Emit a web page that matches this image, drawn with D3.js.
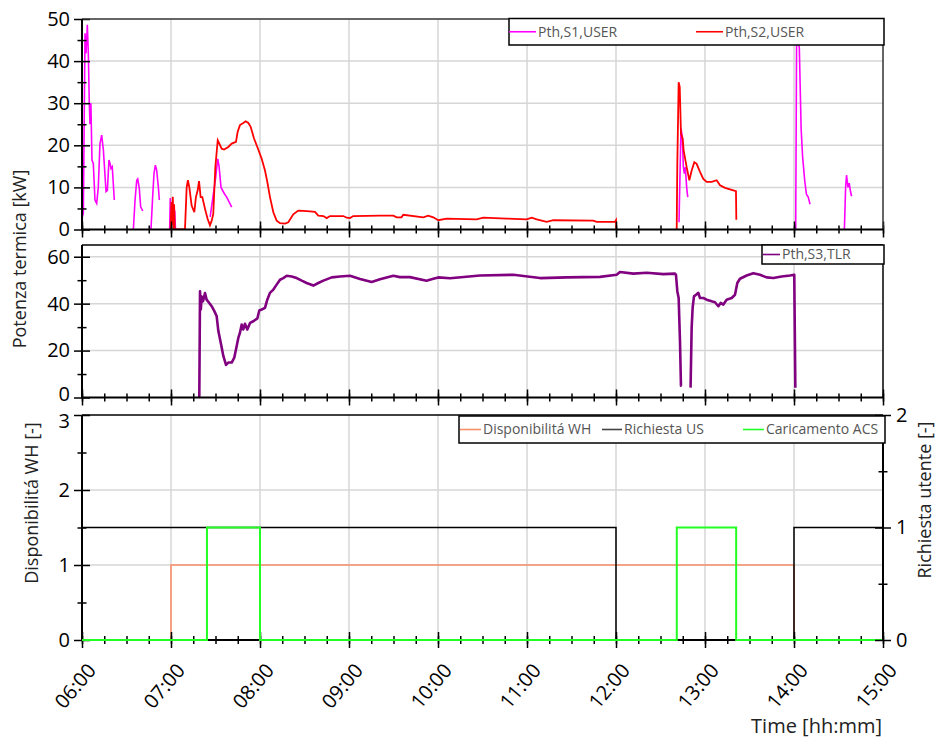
<!DOCTYPE html>
<html><head><meta charset="utf-8">
<script src="https://cdn.jsdelivr.net/npm/d3@7"></script>
<style>body{margin:0;background:#fff;} text{font-family:"Open Sans",sans-serif;}</style>
</head><body><svg id="c" width="935" height="740"></svg>
<script>
// ---------------- DATA ----------------
const hourTicks = [6,7,8,9,10,11,12,13,14,15];
const hourLabels = ["06:00","07:00","08:00","09:00","10:00","11:00","12:00","13:00","14:00","15:00"];
const topTicks = [0,10,20,30,40,50];
const midTicks = [0,20,40,60];
const botLeftTicks = [0,1,2,3];
const botRightTicks = [0,1,2];

// Pth,S1,USER [hour, kW]  (null = gap)
const s1User = [
 [6.000,0],[6.004,3],[6.015,3.8],[6.034,46.6],[6.045,41.8],[6.06,48.6],[6.071,42],[6.082,30],[6.09,25],[6.10,30],[6.112,16.5],[6.127,15.7],[6.146,7],[6.165,6.2],[6.183,10],[6.202,20.4],[6.221,22.4],[6.24,18.9],[6.27,9],[6.285,9.3],[6.303,16.5],[6.315,15.7],[6.326,14.5],[6.34,14.9],[6.363,7],
 null,
 [6.577,0],[6.596,7],[6.615,11.7],[6.626,12],[6.644,9.7],[6.659,5.4],[6.682,4.4],
 null,
 [6.775,0],[6.794,7.8],[6.809,13.3],[6.824,15.3],[6.839,14.1],[6.858,10.1],[6.869,7],
 null,
 [6.985,0],[6.992,7.5],[6.998,0],[7.035,0],[7.042,4.5],[7.05,0],
 null,
 [7.44,3],[7.5,12],[7.525,16.8],[7.54,15],[7.562,10],[7.6,8.5],[7.626,7.7],[7.682,5.3],
 null,
 [12.708,1.7],[12.73,24],[12.745,22],[12.757,14.8],[12.768,13.3],[12.779,14.8],[12.794,10],[12.806,7.7],
 null,
 [14.019,0],[14.03,49],[14.06,43],[14.08,24],[14.097,17.2],[14.12,11.7],[14.14,8.3],[14.16,7.7],[14.18,6],
 null,
 [14.566,0],[14.58,10],[14.59,12.9],[14.607,10],[14.62,11],[14.636,8.9],[14.647,7.9]
];

// Pth,S2,USER
const s2User = [
 [6.995,0],[7.005,6.5],[7.012,1],[7.02,7.8],[7.028,0],[7.035,6],[7.042,0],
 [7.157,0],[7.176,10],[7.19,11.7],[7.206,10],[7.232,5.7],[7.262,4.1],[7.28,7.7],[7.3,9.3],[7.315,11.5],[7.333,7.7],[7.352,7.7],[7.382,4.9],[7.412,2.5],[7.438,1],[7.457,2.1],[7.475,3.7],[7.498,14.8],[7.525,21.2],[7.543,20.4],[7.569,19.2],[7.596,19],[7.644,19.6],[7.682,20.4],[7.73,20.8],[7.749,23.2],[7.775,24.8],[7.812,25.3],[7.839,25.7],[7.869,25.3],[7.895,24.4],[7.933,21.6],[7.97,19.6],[8.019,16.8],[8.056,14],[8.082,11.3],[8.112,7.7],[8.15,4.1],[8.187,2.1],[8.225,1.5],[8.281,1.4],[8.318,1.7],[8.374,3.6],[8.43,4.5],[8.487,4.4],[8.562,4.3],[8.618,4.2],[8.655,3.3],[8.712,3.2],[8.749,2.7],[8.787,3.2],[8.936,3.2],[8.974,2.8],[9.011,2.7],[9.048,3.2],[9.348,3.3],[9.498,3.3],[9.536,2.9],[9.59,2.9],[9.61,3.5],[9.835,2.9],[9.89,3.3],[9.947,2.9],[10.003,2.2],[10.097,2.6],[10.434,2.4],[10.509,2.8],[10.771,2.6],[10.996,2.4],[11.053,2.8],[11.109,2.4],[11.221,1.8],[11.296,2.2],[11.745,2.1],[11.783,1.8],[11.989,1.8],[12.0,2.2],[12.003,0],
 null,
 [12.682,0],[12.689,15.6],[12.704,35],[12.716,33.9],[12.73,22.8],[12.749,21.6],[12.76,18.8],[12.794,14.8],[12.824,11.7],[12.85,14],[12.88,16],[12.906,15.6],[12.944,13.7],[12.981,12],[13.019,11.3],[13.075,11.3],[13.131,11.7],[13.169,10.5],[13.225,9.9],[13.3,9.4],[13.348,9.1],[13.352,2.3]
];

// Pth,S3,TLR
const s3Tlr = [
 [7.318,0],[7.326,45.3],[7.335,37.5],[7.345,43],[7.36,41],[7.382,44.5],[7.4,41.7],[7.43,40.3],[7.457,38.9],[7.487,36.8],[7.513,34.7],[7.532,28.3],[7.551,24.8],[7.57,21.2],[7.588,17.7],[7.618,13.9],[7.644,14.9],[7.682,14.9],[7.711,17],[7.73,20.5],[7.757,25.5],[7.775,27.6],[7.794,31.1],[7.812,29],[7.831,31.4],[7.857,29],[7.888,31.8],[7.925,32.5],[7.97,33.7],[7.992,37.1],[8.019,37.5],[8.056,38.2],[8.082,41.7],[8.112,44.6],[8.15,46],[8.187,48.1],[8.225,50.2],[8.262,50.9],[8.3,51.9],[8.356,51.6],[8.412,50.9],[8.469,49.8],[8.524,48.8],[8.6,47.7],[8.655,48.8],[8.712,49.8],[8.806,51.2],[8.899,51.6],[9.011,51.9],[9.124,50.5],[9.255,49.2],[9.348,50.4],[9.498,51.9],[9.573,51.3],[9.685,51.3],[9.872,49.8],[9.947,50.6],[10.003,51.2],[10.135,50.8],[10.472,52],[10.846,52.3],[11.146,50.9],[11.446,51.2],[11.82,51.4],[12.007,52.3],[12.045,53.5],[12.194,52.8],[12.345,53.2],[12.532,52.6],[12.663,52.8],[12.674,52.3],[12.689,45.3],[12.704,42.4],[12.719,24],[12.73,5],[12.737,5],
 null,
 [12.838,4.2],[12.85,29.7],[12.861,38.2],[12.876,43.1],[12.9,43.8],[12.925,44.6],[12.944,42.4],[12.981,42.4],[13.019,41.7],[13.075,41],[13.112,40.6],[13.15,38.9],[13.176,40.3],[13.206,39.6],[13.243,41.7],[13.3,42.4],[13.337,43.8],[13.363,48.8],[13.393,50.6],[13.468,52],[13.543,53],[13.618,52.3],[13.693,51.2],[13.768,50.9],[13.861,51.6],[13.955,52],[14.003,52.3],[14.015,4.2]
];

// step signals
const disponibilitaWH = [[6,0],[7,1],[14,0],[15,0]];
const richiestaUS = [[6,1],[12,0],[14,1],[15,1]];
const caricamentoACS = [[6,0],[7.404,1],[8.0,0],[12.683,1],[13.35,0],[15,0]];

// ---------------- CHART ----------------
const svg = d3.select("#c");
const X0 = 82, X1 = 883;
const x = d3.scaleLinear().domain([6,15]).range([X0,X1]);
const minorX = d3.range(6, 15.001, 0.25);

const panels = {
  top: {y: d3.scaleLinear().domain([0,50]).range([229.5,19]), top:19, bot:229.5},
  mid: {y: d3.scaleLinear().domain([0,65]).range([397.5,245]), top:245, bot:397.5},
  bot: {y: d3.scaleLinear().domain([0,3]).range([640,415]), top:415, bot:640}
};
const yR = d3.scaleLinear().domain([0,2]).range([640,415]);

const gridColor = "#d6d6d6";
function styleAxis(g){ g.select(".domain").remove(); g.selectAll(".tick line").attr("stroke","#000").attr("stroke-width",1.5); g.selectAll(".tick text").attr("fill","#000").style("font-size","20px"); }

function drawPanel(p, majors, key){
  const y = p.y;
  const g = svg.append("g");
  svg.append("clipPath").attr("id","clip-"+key).append("rect")
    .attr("x",X0).attr("y",p.top).attr("width",X1-X0).attr("height",p.bot-p.top);
  g.selectAll(".vg").data(hourTicks.slice(1,-1)).join("line")
    .attr("x1",d=>x(d)).attr("x2",d=>x(d)).attr("y1",p.top).attr("y2",p.bot)
    .attr("stroke",gridColor).attr("stroke-width",1.5);
  g.selectAll(".hg").data(majors.filter(v=>v>y.domain()[0] && v<y.domain()[1])).join("line")
    .attr("x1",X0).attr("x2",X1).attr("y1",d=>y(d)).attr("y2",d=>y(d))
    .attr("stroke",gridColor).attr("stroke-width",1.5);
  return g;
}

function drawFrame(p, majors, minors, topColor, labelDy){
  const y = p.y;
  const g = svg.append("g");
  [[minorX,4],[minorX,-4],[hourTicks,8],[hourTicks,-8]].forEach(([vals,s])=>{
    g.append("g").attr("transform",`translate(0,${p.bot})`)
     .call(d3.axisBottom(x).tickValues(vals).tickSize(s).tickFormat("")).call(styleAxis);
  });
  [[minors,4.5],[minors,-4.5],[majors,8],[majors,-8]].forEach(([vals,s])=>{
    g.append("g").attr("transform",`translate(${X0},0)`)
     .call(d3.axisLeft(y).tickValues(vals).tickSize(s).tickFormat("")).call(styleAxis);
  });
  const lab = g.append("g").attr("transform",`translate(${X0-12},0)`)
   .call(d3.axisLeft(y).tickValues(majors).tickSize(0).tickPadding(0).tickFormat(d3.format("d"))).call(styleAxis);
  if (labelDy) lab.selectAll(".tick text").attr("dy", d => labelDy[d] || "0.32em");
  g.append("line").attr("x1",X0).attr("x2",X1).attr("y1",p.top).attr("y2",p.top).attr("stroke",topColor).attr("stroke-width",1.5);
  g.append("line").attr("x1",X1).attr("x2",X1).attr("y1",p.top).attr("y2",p.bot).attr("stroke",topColor).attr("stroke-width",1.5);
  g.append("line").attr("x1",X0).attr("x2",X0).attr("y1",p.top).attr("y2",p.bot).attr("stroke","#000").attr("stroke-width",2);
  g.append("line").attr("x1",X0-1).attr("x2",X1+1).attr("y1",p.bot).attr("y2",p.bot).attr("stroke","#000").attr("stroke-width",2);
  return g;
}

function lineFor(y){ return d3.line().defined(d=>d!==null).x(d=>x(d[0])).y(d=>y(d[1])); }
function stepFor(y){ return d3.line().curve(d3.curveStepAfter).x(d=>x(d[0])).y(d=>y(d[1])); }

// ---- top panel
drawPanel(panels.top, topTicks, "top");
const lt = lineFor(panels.top.y);
svg.append("path").attr("d",lt(s1User)).attr("fill","none").attr("stroke","#ff00ff").attr("stroke-width",1.6).attr("clip-path","url(#clip-top)");
svg.append("path").attr("d",lt(s2User)).attr("fill","none").attr("stroke","#ff0000").attr("stroke-width",1.8).attr("clip-path","url(#clip-top)");
drawFrame(panels.top, topTicks, [5,15,25,35,45], "#333", null);

// ---- middle panel
drawPanel(panels.mid, midTicks, "mid");
svg.append("path").attr("d",lineFor(panels.mid.y)(s3Tlr)).attr("fill","none").attr("stroke","#800080").attr("stroke-width",2.6).attr("stroke-linejoin","round").attr("clip-path","url(#clip-mid)");
drawFrame(panels.mid, midTicks, [10,30,50], "#000", {0:"0.15em"});

// ---- bottom panel
drawPanel(panels.bot, botLeftTicks, "bot");
svg.append("path").attr("d",stepFor(panels.bot.y)(disponibilitaWH)).attr("fill","none").attr("stroke","#f9906a").attr("stroke-width",1.6);
svg.append("path").attr("d",stepFor(yR)(richiestaUS)).attr("fill","none").attr("stroke","#000").attr("stroke-width",1.5);
drawFrame(panels.bot, botLeftTicks, [0.5,1.5,2.5], "#000", {3:"0.6em"});
svg.append("path").attr("d",stepFor(yR)(caricamentoACS)).attr("fill","none").attr("stroke","#22ff22").attr("stroke-width",2);
// right axis
[[[0.5,1.5],4.5],[[0.5,1.5],-4.5],[botRightTicks,8],[botRightTicks,-8]].forEach(([vals,s])=>{
  svg.append("g").attr("transform",`translate(${X1},0)`)
   .call(d3.axisRight(yR).tickValues(vals).tickSize(s).tickFormat("")).call(styleAxis);
});
svg.append("g").attr("transform",`translate(${X1+13},0)`)
  .call(d3.axisRight(yR).tickValues(botRightTicks).tickSize(0).tickPadding(0).tickFormat(d3.format("d"))).call(styleAxis);
svg.append("line").attr("x1",X1).attr("x2",X1).attr("y1",415).attr("y2",640).attr("stroke","#000").attr("stroke-width",2);

// x tick labels
svg.append("g").selectAll("text").data(hourTicks).join("text")
  .attr("transform",d=>`translate(${x(d)+15},671) rotate(-50)`)
  .attr("text-anchor","end").style("font-size","20px").attr("fill","#000")
  .text((d,i)=>hourLabels[i]);

// axis titles
svg.append("text").attr("transform","translate(20,259) rotate(-90)").attr("text-anchor","middle").attr("dy","0.35em").style("font-size","18px").attr("fill","#222").text("Potenza termica [kW]");
svg.append("text").attr("transform","translate(32,503) rotate(-90)").attr("text-anchor","middle").attr("dy","0.35em").style("font-size","18px").attr("fill","#222").text("Disponibilitá WH [-]");
svg.append("text").attr("transform","translate(925,500) rotate(-90)").attr("text-anchor","middle").attr("dy","0.35em").style("font-size","18px").attr("fill","#222").text("Richiesta utente [-]");
svg.append("text").attr("x",882).attr("y",733).attr("text-anchor","end").style("font-size","20px").attr("fill","#222").text("Time [hh:mm]");

// legends
function legend(x0,y0,w,h,items){
  const g = svg.append("g");
  g.append("rect").attr("x",x0).attr("y",y0).attr("width",w).attr("height",h).attr("fill","#fff").attr("stroke","#000").attr("stroke-width",1.5);
  items.forEach(it=>{
    g.append("line").attr("x1",it.lx).attr("x2",it.lx+it.lw).attr("y1",y0+h/2).attr("y2",y0+h/2).attr("stroke",it.c).attr("stroke-width",1.6);
    g.append("text").attr("x",it.lx+it.lw+2).attr("y",y0+h/2).attr("dy","0.35em").style("font-size","14px").attr("fill","#555").text(it.t);
  });
}
legend(509,18.5,375,26.5,[{lx:509,lw:27,c:"#ff00ff",t:"Pth,S1,USER"},{lx:696,lw:27,c:"#ff0000",t:"Pth,S2,USER"}]);
legend(762,245,122,19,[{lx:763,lw:17,c:"#800080",t:"Pth,S3,TLR"}]);
legend(459,416,426,27,[{lx:460,lw:21,c:"#f9906a",t:"Disponibilitá WH"},{lx:602,lw:20,c:"#444",t:"Richiesta US"},{lx:743,lw:21,c:"#22ff22",t:"Caricamento ACS"}]);
</script></body></html>
